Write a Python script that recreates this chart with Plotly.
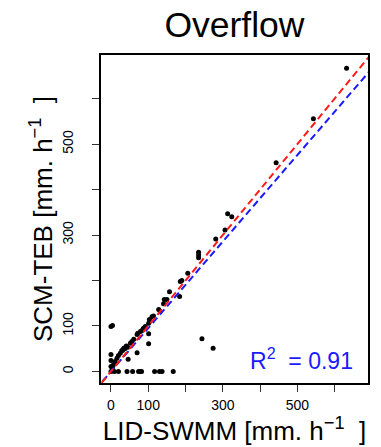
import plotly.graph_objects as go

# LID-SWMM (x) vs SCM-TEB (y), overflow [mm/h]
lid_swmm = [632, 543, 443, 313, 324, 306, 281,
            235, 235, 235, 206, 186, 190, 184, 157, 143, 150, 141,
            128, 132, 114, 110, 103, 101, 92, 87, 83, 79, 72, 70,
            61, 56, 52, 45, 41, 37, 34, 31, 29, 25, 20, 16, 11, 7, 4,
            101, 101, 70, 46, 244, 274,
            0, 4, 0, 0, 0,
            0, 9, 20, 43, 58, 74, 79, 82, 117, 130, 137, 167]
scm_teb = [667, 556, 459, 347, 340, 311, 291,
           262, 256, 250, 216, 198, 200, 165, 175, 158, 158, 149,
           136, 132, 122, 120, 114, 106, 99, 95, 90, 88, 84, 81,
           71, 66, 62, 53, 56, 50, 51, 46, 46, 40, 35, 29, 22, 15, 8,
           83, 61, 41, 27, 72, 51,
           99, 101, 37, 24, 11,
           0, 0, 0, 0, 0, 0, 0, 0, 0, 0, 0, 0]

tick_vals = [0, 100, 200, 300, 400, 500, 600]
tick_text = ["0", "100", "", "300", "", "500", ""]

# reference lines: y = slope * x + intercept
one_to_one = {"slope": 1.0, "intercept": 0.0}
fit_line = {"slope": 0.952, "intercept": 0.0}
line_x = [-100, 800]
r2_value = 0.91

x_range = [-26.8, 689.5]
y_range = [-25.5, 696]

FONT = "Liberation Sans, Arial, sans-serif"
UNIT = "[mm. h<sup>−1</sup>&nbsp; ]"

fig = go.Figure()
fig.add_trace(go.Scatter(
    x=lid_swmm, y=scm_teb, mode="markers",
    marker=dict(color="black", size=5), showlegend=False, hoverinfo="skip"))
fig.add_trace(go.Scatter(
    x=line_x, y=[fit_line["slope"] * v + fit_line["intercept"] for v in line_x],
    mode="lines", line=dict(color="#1a1aff", width=2, dash="7px,4px"),
    showlegend=False, hoverinfo="skip"))
fig.add_trace(go.Scatter(
    x=line_x, y=[one_to_one["slope"] * v + one_to_one["intercept"] for v in line_x],
    mode="lines", line=dict(color="#ff1a1a", width=2, dash="7px,4px"),
    showlegend=False, hoverinfo="skip"))

axis_common = dict(
    showgrid=False, zeroline=False, showline=True, linecolor="black",
    linewidth=2, mirror=True, ticks="outside", ticklen=7, tickwidth=1.2,
    tickcolor="#333", tickvals=tick_vals, ticktext=tick_text,
    tickfont=dict(family=FONT, size=14, color="black"), automargin=False)

# page body has an 8px margin, so the figure is sized to fit inside the window
fig.update_layout(
    width=373, height=439,
    margin=dict(l=93, r=13, t=47, b=64),
    paper_bgcolor="white", plot_bgcolor="white",
    title=dict(text="Overflow", x=0.607, xanchor="center", y=0.962,
               yanchor="middle", automargin=False,
               font=dict(family=FONT, size=35.5, color="black")),
    xaxis=dict(range=x_range, **axis_common,
               title=dict(text="LID-SWMM " + UNIT,
                          font=dict(family=FONT, size=26, color="black"),
                          standoff=0),
               ticklabelstandoff=1),
    yaxis=dict(range=y_range, tickangle=-90, **axis_common,
               title=dict(text="SCM-TEB " + UNIT,
                          font=dict(family=FONT, size=26, color="black"),
                          standoff=0),
               ticklabelstandoff=13),
    annotations=[dict(
        text=f"R<sup>2</sup>  = {r2_value:.2f}", xref="paper", yref="paper",
        x=0.953, y=0.074, xanchor="right", yanchor="middle", showarrow=False,
        font=dict(family=FONT, size=23, color="#1a1aff"))],
)

fig.write_html("out.html")
